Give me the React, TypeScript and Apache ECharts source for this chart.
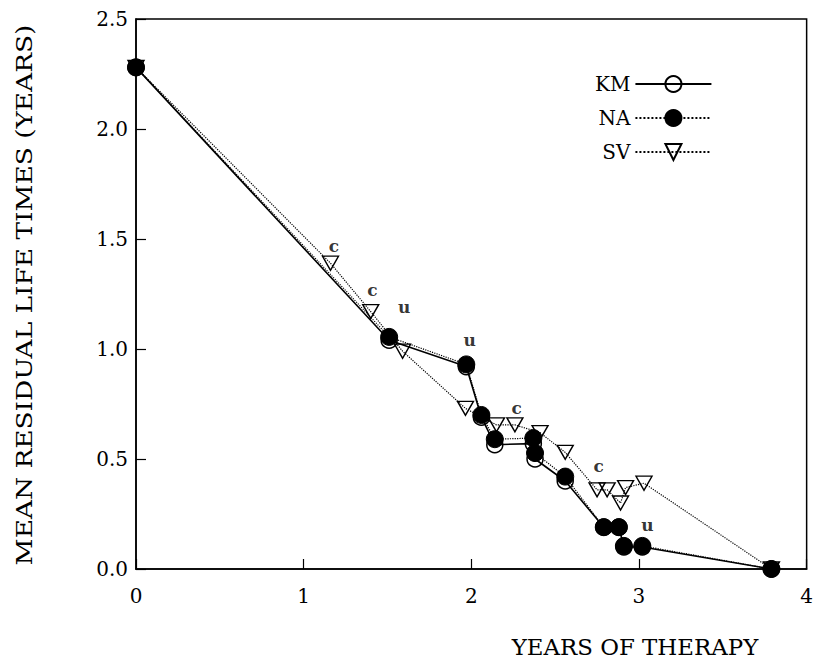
import React, { useEffect, useRef } from "react";
import * as echarts from "echarts";

// Kaplan-Meier estimates (open circles, solid line)
const kmX = [0, 1.51, 1.97, 2.06, 2.14, 2.37, 2.38, 2.56, 2.79, 2.88, 2.91, 3.02, 3.79];
const kmY = [2.28, 1.04, 0.92, 0.69, 0.565, 0.57, 0.5, 0.4, 0.19, 0.19, 0.1, 0.1, 0];

// Nelson-Aalen estimates (filled circles, dotted line)
const naX = [0, 1.51, 1.97, 2.06, 2.14, 2.37, 2.38, 2.56, 2.79, 2.88, 2.91, 3.02, 3.79];
const naY = [2.28, 1.055, 0.93, 0.7, 0.59, 0.595, 0.527, 0.42, 0.19, 0.19, 0.105, 0.105, 0];

// SV estimates (down triangles, dotted line)
const svX = [0, 1.16, 1.4, 1.59, 1.965, 2.15, 2.26, 2.41, 2.56, 2.75, 2.81, 2.89, 2.92, 3.03, 3.79];
const svY = [2.28, 1.39, 1.17, 0.99, 0.73, 0.655, 0.655, 0.62, 0.53, 0.36, 0.36, 0.3, 0.37, 0.39, 0];

// point annotations
const annText = ["c", "c", "u", "u", "c", "c", "u"];
const annX = [1.18, 1.41, 1.6, 1.99, 2.27, 2.76, 3.05];
const annY = [1.47, 1.27, 1.19, 1.04, 0.73, 0.47, 0.2];

const xTicks = [0, 1, 2, 3, 4];
const yTicks = [0, 0.5, 1, 1.5, 2, 2.5];

const xTitle = "YEARS OF THERAPY";
const yTitle = "MEAN RESIDUAL LIFE TIMES (YEARS)";

const FONT = "DejaVu Serif";

const zip = (xs: number[], ys: number[]) => xs.map((x, i) => [x, ys[i]]);

export default function App() {
  const ref = useRef<HTMLDivElement>(null);
  useEffect(() => {
    const chart = echarts.init(ref.current!, null, { renderer: "svg" });
    chart.setOption({
      animation: false,
      backgroundColor: "#fff",
      grid: {
        left: 136,
        right: 4,
        top: 19,
        bottom: 90,
        show: true,
        borderColor: "#000",
        borderWidth: 1.5,
        backgroundColor: "transparent",
      },
      xAxis: {
        type: "value",
        min: xTicks[0],
        max: xTicks[xTicks.length - 1],
        interval: 1,
        splitLine: { show: false },
        axisLine: { lineStyle: { color: "#000", width: 1.5 } },
        axisTick: { inside: true, length: 10, lineStyle: { color: "#000", width: 1.2 } },
        axisLabel: {
          color: "#000",
          fontFamily: FONT,
          fontSize: 20,
          margin: 17,
          formatter: (v: number) => String(v),
        },
      },
      yAxis: {
        type: "value",
        min: yTicks[0],
        max: yTicks[yTicks.length - 1],
        interval: 0.5,
        splitLine: { show: false },
        axisLine: { lineStyle: { color: "#000", width: 1.5 } },
        axisTick: { inside: true, length: 10, lineStyle: { color: "#000", width: 1.2 } },
        axisLabel: {
          color: "#000",
          fontFamily: FONT,
          fontSize: 20,
          margin: 8,
          formatter: (v: number) => v.toFixed(1),
        },
      },
      legend: {
        data: ["KM", "NA", "SV"],
        orient: "vertical",
        left: 590,
        top: 69,
        align: "right",
        itemWidth: 76,
        itemHeight: 20,
        itemGap: 14,
        textStyle: { fontFamily: FONT, fontSize: 20, color: "#000" },
      },
      graphic: [
        {
          type: "text",
          x: 635,
          y: 647,
          scaleX: 1.04,
          style: {
            text: xTitle,
            fontFamily: FONT,
            fontSize: 22,
            fill: "#000",
            align: "center",
            verticalAlign: "middle",
          },
        },
        {
          type: "text",
          x: 24,
          y: 295,
          rotation: Math.PI / 2,
          scaleX: 1.2,
          style: {
            text: yTitle,
            fontFamily: FONT,
            fontSize: 22,
            fill: "#000",
            align: "center",
            verticalAlign: "middle",
          },
        },
      ],
      series: [
        {
          name: "KM",
          type: "line",
          data: zip(kmX, kmY),
          symbol: "circle",
          symbolSize: 16,
          clip: false,
          z: 3,
          itemStyle: { color: "rgba(255,255,255,0)", borderColor: "#000", borderWidth: 1.5 },
          lineStyle: { color: "#000", width: 1.6, type: "solid" },
        },
        {
          name: "NA",
          type: "line",
          data: zip(naX, naY),
          symbol: "circle",
          symbolSize: 17,
          clip: false,
          z: 4,
          itemStyle: { color: "#000", borderColor: "#000", borderWidth: 1 },
          lineStyle: { color: "#000", width: 1.2, type: "dotted" },
        },
        {
          name: "SV",
          type: "line",
          data: zip(svX, svY),
          symbol: "path://M0,0L20,0L10,17Z",
          symbolSize: [16, 14],
          clip: false,
          z: 2,
          itemStyle: { color: "rgba(255,255,255,0)", borderColor: "#000", borderWidth: 1.4 },
          lineStyle: { color: "#000", width: 1.2, type: "dotted" },
        },
        {
          name: "ann",
          type: "scatter",
          data: annText.map((t, i) => ({ name: t, value: [annX[i], annY[i]] })),
          symbolSize: 1,
          silent: true,
          z: 6,
          itemStyle: { color: "rgba(0,0,0,0)" },
          label: {
            show: true,
            position: "inside",
            formatter: "{b}",
            fontFamily: FONT,
            fontSize: 17,
            fontWeight: "bold",
            color: "#000",
          },
        },
      ],
    });
    return () => chart.dispose();
  }, []);
  return (
    <div
      ref={ref}
      style={{ position: "fixed", left: 0, top: 0, width: 816, height: 659 }}
    />
  );
}
